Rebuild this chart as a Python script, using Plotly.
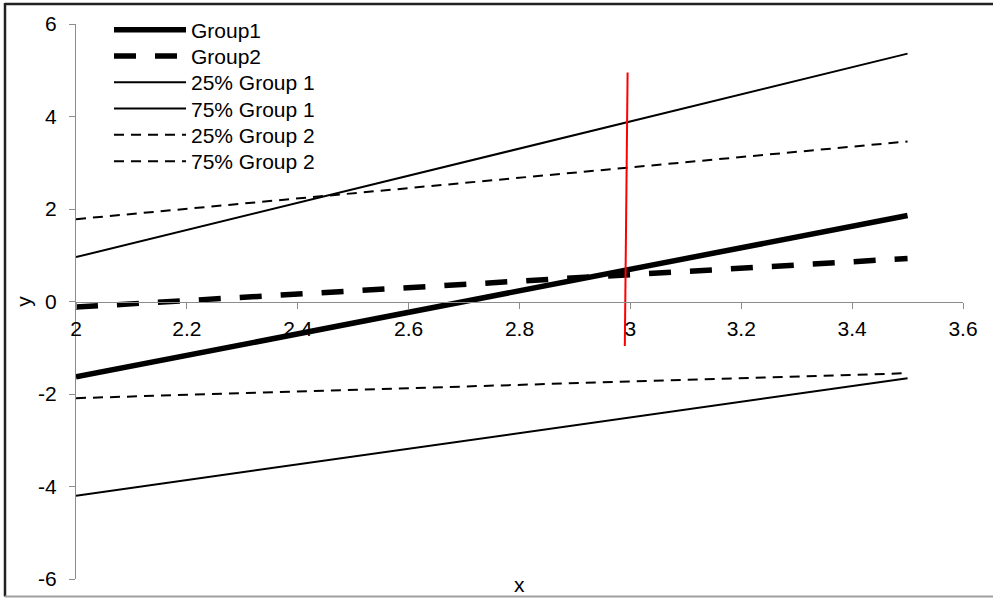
import plotly.graph_objects as go

# ---- data ----
x_vals = [2.0, 3.5]
group1 = [-1.63, 1.86]
group2 = [-0.12, 0.93]
g1_q25 = [-4.20, -1.66]
g1_q75 = [0.96, 5.36]
g2_q25 = [-2.09, -1.55]
g2_q75 = [1.78, 3.46]
marker_x = [2.995, 2.990]
marker_y = [4.95, -0.96]

x_ticks = [2, 2.2, 2.4, 2.6, 2.8, 3, 3.2, 3.4, 3.6]
x_ticktext = ["2", "2.2", "2.4", "2.6", "2.8", "3", "3.2", "3.4", "3.6"]
y_ticks = [-6, -4, -2, 0, 2, 4, 6]
y_ticktext = ["-6", "-4", "-2", "0", "2", "4", "6"]

FONT = "Liberation Sans, Arial, sans-serif"
FS = 21
W, H = 993, 598
ML, MR, MT, MB = 76, 30, 24, 19
PW, PH = W - ML - MR, H - MT - MB

series = [
    ("Group1", group1, dict(color="black", width=5.5, dash="solid")),
    ("Group2", group2, dict(color="black", width=5.5, dash="22px,19px")),
    ("25% Group 1", g1_q25, dict(color="black", width=2, dash="solid")),
    ("75% Group 1", g1_q75, dict(color="black", width=2, dash="solid")),
    ("25% Group 2", g2_q25, dict(color="black", width=2, dash="10px,7px")),
    ("75% Group 2", g2_q75, dict(color="black", width=2, dash="10px,7px")),
]

fig = go.Figure()
legend_layout = {}
ROW0, ROWSTEP, TOP_OFF = 29.5, 26.3, 20  # legend row centres (px from top)
for i, (name, ys, ln) in enumerate(series):
    key = "legend" if i == 0 else f"legend{i + 1}"
    fig.add_trace(go.Scatter(x=x_vals, y=ys, mode="lines", name=name, line=ln,
                             legend=key))
    top_px = ROW0 + i * ROWSTEP - TOP_OFF
    legend_layout[key] = dict(x=(109 - ML) / PW, y=1 + (MT - top_px) / PH,
                              xanchor="left", yanchor="top",
                              bgcolor="rgba(0,0,0,0)", font=dict(size=FS),
                              itemwidth=72)

fig.add_trace(go.Scatter(x=marker_x, y=marker_y, mode="lines",
                         line=dict(color="#ff0000", width=2), showlegend=False,
                         hoverinfo="skip"))

axis_col = "#8c8c8c"
fig.update_layout(
    width=W, height=H,
    margin=dict(l=ML, r=MR, t=MT, b=MB, autoexpand=False),
    paper_bgcolor="white", plot_bgcolor="white",
    font=dict(family=FONT, size=FS, color="black"),
    showlegend=True,
    xaxis=dict(range=[2, 3.6], tickvals=x_ticks, ticktext=x_ticktext,
               anchor="free", position=0.5, showline=True, linecolor=axis_col,
               linewidth=1.3, ticks="outside", ticklen=6, tickcolor=axis_col,
               tickwidth=1.3, showgrid=False, zeroline=False,
               ticklabelstandoff=2, tickfont=dict(size=FS)),
    yaxis=dict(range=[-6, 6], tickvals=y_ticks, ticktext=y_ticktext,
               showline=True, linecolor=axis_col,
               linewidth=1.3, ticks="outside", ticklen=6, tickcolor=axis_col,
               tickwidth=1.3, showgrid=False, zeroline=False,
               ticklabelstandoff=8, tickfont=dict(size=FS),
               title=dict(text="y", font=dict(size=FS), standoff=0)),
    annotations=[dict(text="x", xref="paper", yref="paper", x=0.5,
                      y=-5 / PH, xanchor="center", yanchor="middle",
                      showarrow=False, font=dict(size=FS))],
    shapes=[
        # chart-area frame
        dict(type="line", xref="paper", yref="paper",
             x0=(5 - ML) / PW, x1=(5 - ML) / PW, y0=1 + (MT - 3) / PH, y1=-(MB - 1.5) / PH,
             line=dict(color="#222222", width=2.5)),
        dict(type="line", xref="paper", yref="paper",
             x0=(5 - ML) / PW, x1=1 + MR / PW, y0=1 + (MT - 4) / PH, y1=1 + (MT - 4) / PH,
             line=dict(color="#222222", width=2.5)),
        dict(type="line", xref="paper", yref="paper",
             x0=(5 - ML) / PW, x1=1 + MR / PW, y0=-(MB - 1.5) / PH, y1=-(MB - 1.5) / PH,
             line=dict(color="#a0a0a0", width=2)),
    ],
    **legend_layout,
)

fig.write_html("out.html")
